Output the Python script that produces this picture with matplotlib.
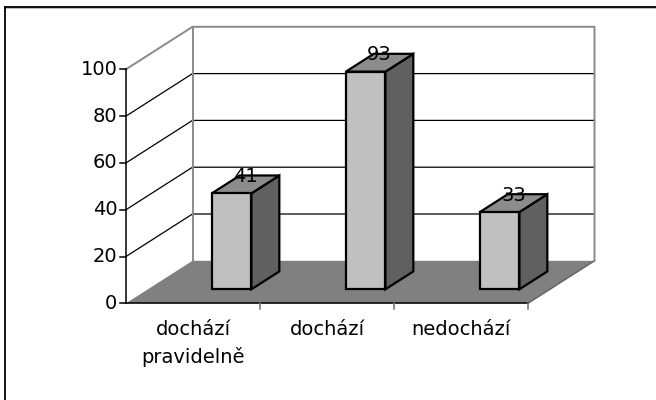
import matplotlib
matplotlib.use("Agg")
import matplotlib.pyplot as plt
from matplotlib.patches import Polygon

# ---- data ----
categories = ["dochází\npravidelně", "dochází", "nedochází"]
values = [41, 93, 33]
yticks = [0, 20, 40, 60, 80, 100]
ymax = 100

# ---- oblique projection (canvas in pixels) ----
X0, Y0 = 126.0, 303.3      # front-left floor corner
CW = 134.0                 # category width
VS = 2.34                  # pixels per value unit
DX, DY = 66.5, 42.5        # full depth offset

def P(c, v, z):
    return (X0 + c * CW + z * DX, Y0 - v * VS - z * DY)

fig = plt.figure(figsize=(6.56, 4.0), dpi=100)
ax = fig.add_axes([0, 0, 1, 1])
ax.set_xlim(0, 656)
ax.set_ylim(400, 0)
ax.axis("off")

n = len(categories)
FS = 14

# outer frame (top and left edges visible)
ax.plot([5.5, 656], [7.5, 7.5], color="#b0b0b0", lw=1.2, zorder=1)
ax.plot([5, 656], [6.5, 6.5], color="black", lw=1.3, zorder=2)
ax.plot([5, 5], [6.5, 400], color="black", lw=1.3, zorder=2)

# floor
floor = [P(0, 0, 0), P(n, 0, 0), P(n, 0, 1), P(0, 0, 1)]
ax.add_patch(Polygon(floor, closed=True, facecolor="#808080", edgecolor="none", zorder=2))
ax.plot(*zip(P(n, 0, 0), P(n, 0, 1)), color="#606060", lw=1.0, zorder=3)

# gridlines on walls
for v in yticks[1:-1]:
    ax.plot(*zip(P(0, v, 0), P(0, v, 1), P(n, v, 1)), color="black", lw=0.9, zorder=3)
# wall edges
wall_col = "#8a8a8a"
ax.plot(*zip(P(0, ymax, 0), P(0, ymax, 1), P(n, ymax, 1), P(n, 0, 1)), color=wall_col, lw=1.4, zorder=3)
ax.plot(*zip(P(0, 0, 1), P(0, ymax, 1)), color=wall_col, lw=1.4, zorder=3)

# axes lines
ax.plot(*zip(P(0, 0, 0), P(0, ymax, 0)), color="black", lw=1.1, zorder=4)
ax.plot(*zip(P(0, 0, 0), P(n, 0, 0)), color="black", lw=1.1, zorder=4)
for v in yticks:
    x, y = P(0, v, 0)
    ax.plot([x - 6, x], [y, y], color="black", lw=1.1, zorder=4)
    ax.text(x - 8.5, y, str(v), ha="right", va="center", fontsize=FS, family="DejaVu Sans", zorder=5)
for i in range(1, n + 1):
    x, y = P(i, 0, 0)
    ax.plot([x, x], [y, y + 6], color="#707070", lw=1.1, zorder=4)
for i, cat in enumerate(categories):
    x, y = P(i + 0.5, 0, 0)
    ax.text(x, y + 17, cat, ha="center", va="top", fontsize=FS, family="DejaVu Sans",
            linespacing=1.5, zorder=5)

# bars
b0, b1 = 0.477, 0.772
z0, z1 = 0.33, 0.75
for i, v in enumerate(values):
    c0, c1 = i + b0, i + b1
    front = [P(c0, 0, z0), P(c1, 0, z0), P(c1, v, z0), P(c0, v, z0)]
    side = [P(c1, 0, z0), P(c1, 0, z1), P(c1, v, z1), P(c1, v, z0)]
    top = [P(c0, v, z0), P(c1, v, z0), P(c1, v, z1), P(c0, v, z1)]
    for poly, col in ((side, "#606060"), (top, "#8c8c8c"), (front, "#c0c0c0")):
        ax.add_patch(Polygon(poly, closed=True, facecolor=col, edgecolor="black",
                             lw=1.6, joinstyle="miter", zorder=6))
    lx, _ = P((c0 + c1) / 2, v, (z0 + z1) / 2)
    _, ly = P(c0, v, z1)
    ax.text(lx, ly + 1, str(v), ha="center", va="center", fontsize=FS,
            family="DejaVu Sans", zorder=7)

fig.savefig("out.png", dpi=100)
